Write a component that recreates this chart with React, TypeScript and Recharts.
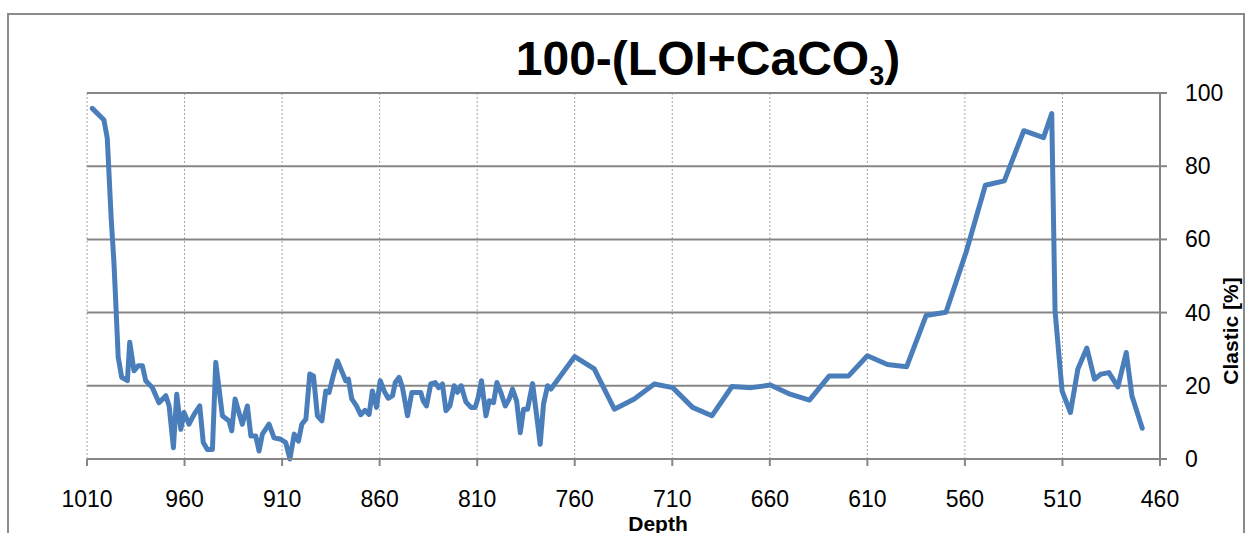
import React from 'react';
import { LineChart, Line, XAxis, YAxis, CartesianGrid } from 'recharts';

// depth (x) and clastic % (y), ordered along the core from 1010 down to 460
const depths = [
  1007.3, 1001.3, 999.6, 997.6, 996.2, 995.6, 994, 992.2, 989.3, 988.1,
  985.9, 983.7, 981.6, 979.9, 976.5, 973.1, 969.6, 967.9, 965.7, 964,
  961.9, 960.3, 957.7, 955.1, 952.2, 950.4, 948.3, 945.7, 944, 940.6,
  937.2, 935.8, 934.1, 930.4, 927.8, 926, 923.5, 921.8, 920.1, 916.7,
  914.1, 910.7, 908.1, 906, 903.8, 901.6, 899.9, 897.8, 895.8, 893.9,
  891.9, 889.6, 887.6, 885.9, 883.8, 881.6, 879.1, 877.4, 876, 874.3,
  871.9, 869.7, 867.5, 865.4, 863.7, 861.6, 859.7, 857.7, 855.6, 853.4,
  852, 850, 848.3, 845.7, 843.5, 840.6, 838.9, 837.7, 836, 833.8,
  831.5, 829.8, 827.8, 826, 824, 821.8, 820.1, 818.2, 815.8, 813.2,
  811, 809.5, 807.8, 805.5, 803.8, 801.6, 799.9, 797.9, 795.6, 793.6,
  791.9, 789.8, 787.9, 786.2, 784.2, 781.6, 779.6, 777.7, 776, 773.9,
  772.2, 760, 750, 739.7, 729.5, 719.2, 709.8, 699.6, 689.7, 679.4,
  669.5, 659.7, 649.6, 639.7, 629.5, 619.6, 610, 599.7, 589.9, 579.9,
  569.7, 559.4, 549.5, 539.8, 529.8, 519.7, 515.5, 513.8, 510.2, 505.9,
  502.1, 497.5, 493.6, 490.2, 486.2, 481.6, 477.3, 474.4, 469.1,
];

const clastic = [
  95.8, 92.6, 87.6, 65.7, 53.8, 46.9, 27.8, 22.3, 21.4, 31.9,
  24.1, 25.5, 25.5, 21.4, 19.5, 15.4, 17.3, 14.5, 3.1, 17.7,
  8.1, 12.7, 9.5, 12.2, 14.5, 4.5, 2.6, 2.6, 26.4, 11.8,
  10.4, 7.7, 16.4, 9.5, 14.5, 6.3, 6.3, 2.2, 6.8, 9.5,
  5.8, 5.4, 4.5, 0, 6.8, 4.9, 9.5, 10.9, 23.2, 22.7,
  11.8, 10.4, 18.6, 18.2, 22.7, 26.8, 23.6, 21.4, 21.8, 16.4,
  14.5, 12.1, 13.3, 12.2, 18.6, 14.1, 21.4, 18.6, 16.6, 17.3,
  20.9, 22.3, 19.5, 11.8, 18.2, 18.2, 18.2, 15.9, 14.5, 20.5,
  20.9, 19.5, 20.5, 13.2, 14.5, 20, 18.2, 20, 15.6, 14.1,
  14.1, 16.8, 21.4, 11.8, 15.9, 15.4, 20.9, 18.2, 14.5, 16.4,
  19.1, 15.9, 7.2, 13.6, 13.6, 20.6, 12.2, 4, 15, 20,
  19.1, 28, 24.6, 13.6, 16.4, 20.5, 19.5, 14.1, 11.8, 19.8,
  19.5, 20.2, 17.7, 16.1, 22.7, 22.7, 28.2, 25.8, 25.2, 39.2,
  40.1, 56.5, 74.8, 76, 89.7, 87.8, 94.4, 40.5, 18.6, 12.7,
  24.6, 30.3, 21.8, 23.2, 23.6, 19.7, 29.1, 17.3, 8.4,
];

const depthTicks = [1010, 960, 910, 860, 810, 760, 710, 660, 610, 560, 510, 460];
const clasticTicks = [0, 20, 40, 60, 80, 100];

const data = depths.map((d, i) => ({ depth: d, clastic: clastic[i] }));

const FONT = '"Liberation Sans", Arial, sans-serif';
const AXIS_GREY = '#868686';

const XTick = (props: any) => {
  const { x, y, payload } = props;
  return (
    <text x={x} y={y + 39} textAnchor="middle" fontFamily={FONT} fontSize={23} fill="#000">
      {payload.value}
    </text>
  );
};

const YTick = (props: any) => {
  const { y, payload } = props;
  return (
    <text x={1185} y={y + 8} textAnchor="start" fontFamily={FONT} fontSize={23} fill="#000">
      {payload.value}
    </text>
  );
};

export default function App() {
  return (
    <div style={{ position: 'fixed', left: 0, top: 0, width: 1250, height: 533, overflow: 'hidden', background: '#fff' }}>
      <div
        style={{
          position: 'absolute',
          left: 7,
          top: 13,
          width: 1238,
          height: 600,
          border: '2px solid #8a8a8a',
          boxSizing: 'border-box',
        }}
      />
      <div style={{ position: 'absolute', left: 0, top: 0 }}>
        <LineChart width={1250} height={533} data={data} margin={{ top: 93, right: 0, left: 87, bottom: 0 }}>
          <CartesianGrid horizontal={false} stroke="#a6a6a6" strokeDasharray="2 2" />
          <CartesianGrid vertical={false} stroke={AXIS_GREY} strokeWidth={2} />
          <XAxis
            dataKey="depth"
            type="number"
            domain={[460, 1010]}
            ticks={depthTicks}
            reversed
            allowDataOverflow
            height={74}
            interval={0}
            tickSize={7}
            stroke={AXIS_GREY}
            strokeWidth={2}
            tickLine={{ stroke: AXIS_GREY, strokeWidth: 2 }}
            tick={<XTick />}
          />
          <YAxis
            orientation="right"
            type="number"
            domain={[0, 100]}
            ticks={clasticTicks}
            width={90}
            tickSize={7}
            stroke={AXIS_GREY}
            strokeWidth={2}
            tickLine={{ stroke: AXIS_GREY, strokeWidth: 2 }}
            tick={<YTick />}
          />
          <Line
            type="linear"
            dataKey="clastic"
            stroke="#4A7EBB"
            strokeWidth={5}
            strokeLinejoin="round"
            strokeLinecap="round"
            dot={false}
            isAnimationActive={false}
          />
        </LineChart>
      </div>
      <svg width={1250} height={533} style={{ position: 'absolute', left: 0, top: 0, pointerEvents: 'none' }}>
        <text x={708} y={75} textAnchor="middle" fontFamily={FONT} fontSize={48} fontWeight="bold" fill="#000">
          100-(LOI+CaCO
          <tspan fontSize={27} dy={10}>3</tspan>
          <tspan dy={-10}>)</tspan>
        </text>
        <text x={658} y={531} textAnchor="middle" fontFamily={FONT} fontSize={21} fontWeight="bold" fill="#000">
          Depth
        </text>
        <text
          x={1238}
          y={331}
          textAnchor="middle"
          fontFamily={FONT}
          fontSize={21}
          fontWeight="bold"
          fill="#000"
          transform="rotate(-90 1238 331)"
        >
          Clastic [%]
        </text>
      </svg>
    </div>
  );
}
